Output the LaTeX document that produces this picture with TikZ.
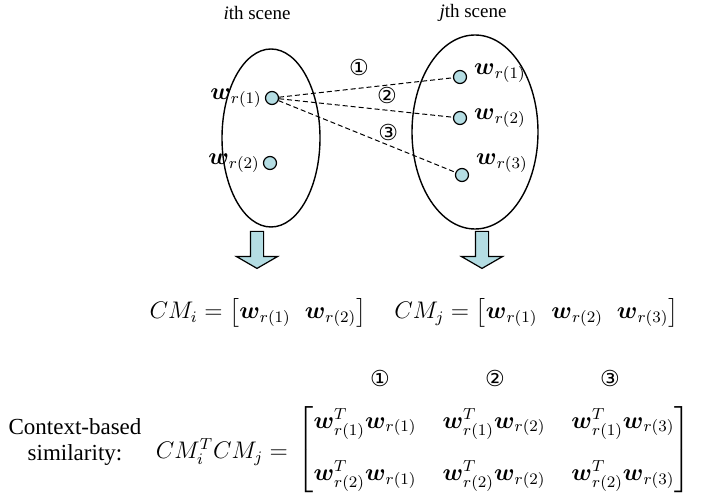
\documentclass[tikz,border=0pt]{standalone}
\usepackage{amsmath}
\usepackage[no-math]{fontspec}
\setmainfont{Liberation Serif}
\newfontfamily\circfont{DejaVu Sans}
\usetikzlibrary{positioning,shapes.geometric,shapes.arrows}
\definecolor{dotblue}{RGB}{180,221,227}
\newcommand{\wv}{\boldsymbol{w}}
\newcommand{\cnum}[1]{{\circfont\fontsize{11}{11}\selectfont #1}}
\tikzset{
  scene/.style={draw,ellipse,line width=0.7pt,inner sep=0pt},
  wdot/.style={draw,circle,fill=dotblue,minimum size=6.5pt,inner sep=0pt,line width=0.6pt},
  link/.style={dashed,dash pattern=on 2.5pt off 1.5pt,line width=0.5pt},
  blockarrow/.style={draw,single arrow,fill=dotblue,rotate=-90,line width=0.6pt,
    inner sep=3pt,minimum height=18.5pt,single arrow head extend=7pt,
    single arrow tip angle=120,single arrow head indent=0pt}
}
\begin{document}
\begin{tikzpicture}[x=0.5pt,y=-0.5pt]
    \useasboundingbox (0,0) rectangle (702,501);
    \node[font=\fontsize{9.5}{11}\selectfont] (ti) at (257,13) {\textit{i}th scene};
    \node[font=\fontsize{9.5}{11}\selectfont] (tj) at (473,13) {\textit{j}th scene};

    \node[scene,minimum width=49pt,minimum height=89pt] (si) at (271,138) {};
    \node[scene,minimum width=63pt,minimum height=97pt] (sj) at (475,132) {};

    \node[wdot] (li1) at (272,98) {};
    \node[wdot] (li2) at (270,163) {};
    \node[left=-2pt of li1] {\large $\wv_{r(1)}$};
    \node[left=-2pt of li2] {\large $\wv_{r(2)}$};

    \node[wdot] (rj1) at (460,77) {};
    \node[wdot] (rj2) at (460,118) {};
    \node[wdot] (rj3) at (462,175) {};
    \node[right=0pt of rj1,yshift=2pt] {\large $\wv_{r(1)}$};
    \node[right=0pt of rj2] {\large $\wv_{r(2)}$};
    \node[right=0pt of rj3,yshift=6pt] {\large $\wv_{r(3)}$};

    \draw (li1) edge[link] node[pos=0.46,above=2.5pt]{\cnum{①}} (rj1);
    \draw (li1) edge[link] node[pos=0.62,above=-0.5pt]{\cnum{②}} (rj2);
    \draw (li1) edge[link] node[pos=0.62,above=-1.5pt]{\cnum{③}} (rj3);

    \node[blockarrow] (ai) at (257,248) {};
    \node[blockarrow] (aj) at (482,248) {};

    \node (eq) at (414,313) {\large $\arraycolsep=3.5pt CM_i=\begin{bmatrix}\wv_{r(1)} & \wv_{r(2)}\end{bmatrix}\hspace{12pt} CM_j=\begin{bmatrix}\wv_{r(1)} & \wv_{r(2)} & \wv_{r(3)}\end{bmatrix}$};

    \node[align=center,font=\fontsize{11.5}{13}\selectfont] (cs) at (75,442) {Context-based\\similarity:};
    \node (lhs) at (222,452) {\large $CM_i^TCM_j=$};
    \node (mat) at (494,450) {\large $\arraycolsep=6.5pt\begin{bmatrix}
      \wv_{r(1)}^T\wv_{r(1)} & \wv_{r(1)}^T\wv_{r(2)} & \wv_{r(1)}^T\wv_{r(3)}\\[12pt]
      \wv_{r(2)}^T\wv_{r(1)} & \wv_{r(2)}^T\wv_{r(2)} & \wv_{r(2)}^T\wv_{r(3)}
    \end{bmatrix}$};
    \node (c1) at (380,378) {\cnum{①}};
    \node (c2) at (495,378) {\cnum{②}};
    \node (c3) at (610,378) {\cnum{③}};
  \end{tikzpicture}
\end{document}
